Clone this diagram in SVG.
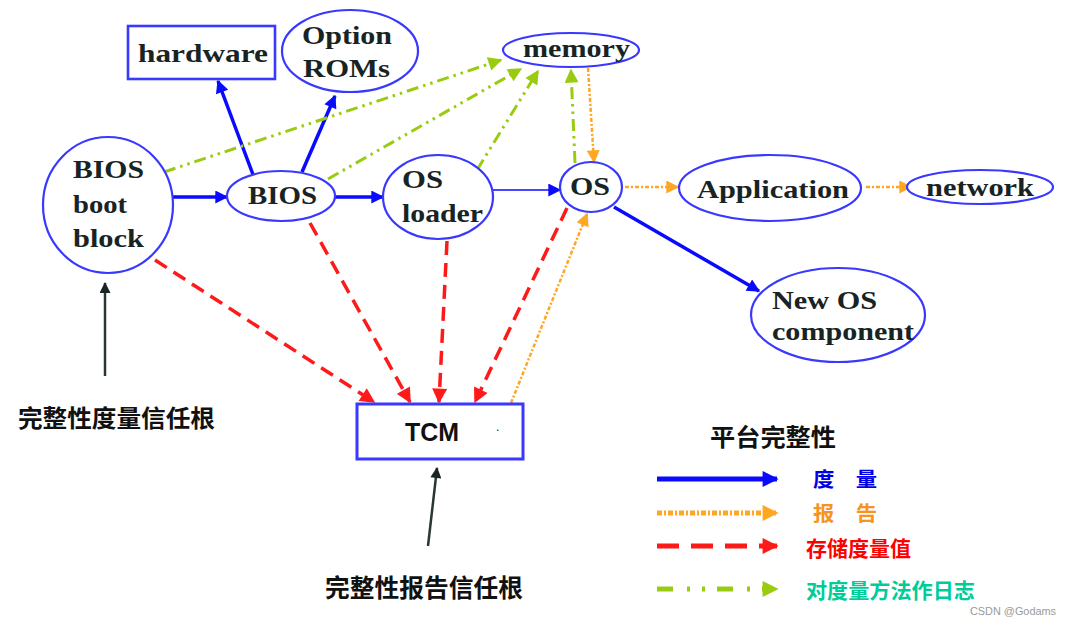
<svg xmlns="http://www.w3.org/2000/svg" width="1071" height="625" viewBox="0 0 1071 625">
<style>
.node{fill:#ffffff;stroke:#3838ff;stroke-width:2.2}
.nt{font-family:"Liberation Serif",serif;font-weight:bold;font-size:26px;fill:#182424}
.cn{font-family:"Noto Sans CJK SC",sans-serif;font-weight:bold}
.blue{stroke:#0a0aff;stroke-width:3.5;fill:none}
.red{stroke:#ff1a1a;stroke-width:3.5;fill:none;stroke-dasharray:14 8}
.green{stroke:#99cc11;stroke-width:3;fill:none;stroke-dasharray:12 5 2.5 5 2.5 5}
.orange{stroke:#ffa622;stroke-width:2.5;fill:none;stroke-dasharray:4 2 2 2}
.black{stroke:#2a3636;stroke-width:2.5;fill:none}
.lg{stroke-width:5}
</style>
<defs>
<marker id="mb" viewBox="0 0 10 10" refX="9" refY="5" markerUnits="userSpaceOnUse" markerWidth="16" markerHeight="13" orient="auto"><path d="M0,0 L10,5 L0,10 z" fill="#0a0aff"/></marker>
<marker id="mr" viewBox="0 0 10 10" refX="9" refY="5" markerUnits="userSpaceOnUse" markerWidth="17" markerHeight="15" orient="auto"><path d="M0,0 L10,5 L0,10 z" fill="#ff1a1a"/></marker>
<marker id="mg" viewBox="0 0 10 10" refX="9" refY="5" markerUnits="userSpaceOnUse" markerWidth="16" markerHeight="14" orient="auto"><path d="M0,0 L10,5 L0,10 z" fill="#99cc11"/></marker>
<marker id="mo" viewBox="0 0 10 10" refX="9" refY="5" markerUnits="userSpaceOnUse" markerWidth="15" markerHeight="13" orient="auto"><path d="M0,0 L10,5 L0,10 z" fill="#ffa622"/></marker>
<marker id="mk" viewBox="0 0 10 10" refX="9" refY="5" markerUnits="userSpaceOnUse" markerWidth="13" markerHeight="11" orient="auto"><path d="M0,0 L10,5 L0,10 z" fill="#1a2424"/></marker>
<marker id="lb" viewBox="0 0 10 10" refX="9" refY="5" markerUnits="userSpaceOnUse" markerWidth="17" markerHeight="16" orient="auto"><path d="M0,0 L10,5 L0,10 z" fill="#0a0aff"/></marker>
<marker id="lo" viewBox="0 0 10 10" refX="9" refY="5" markerUnits="userSpaceOnUse" markerWidth="17" markerHeight="16" orient="auto"><path d="M0,0 L10,5 L0,10 z" fill="#ffa622"/></marker>
<marker id="lr" viewBox="0 0 10 10" refX="9" refY="5" markerUnits="userSpaceOnUse" markerWidth="17" markerHeight="16" orient="auto"><path d="M0,0 L10,5 L0,10 z" fill="#ff1a1a"/></marker>
<marker id="lgm" viewBox="0 0 10 10" refX="9" refY="5" markerUnits="userSpaceOnUse" markerWidth="17" markerHeight="16" orient="auto"><path d="M0,0 L10,5 L0,10 z" fill="#99cc11"/></marker>
</defs>
<rect width="1071" height="625" fill="#ffffff"/>

<g id="connectors">
<line class="blue" x1="173" y1="197" x2="227" y2="197" marker-end="url(#mb)"/>
<line class="blue" x1="255" y1="180" x2="218" y2="81" marker-end="url(#mb)"/>
<line class="blue" x1="302" y1="172" x2="335" y2="96" marker-end="url(#mb)"/>
<line class="blue" x1="335" y1="197" x2="383" y2="197" marker-end="url(#mb)"/>
<line class="blue" style="stroke-width:1.6" x1="493" y1="190" x2="560" y2="190" marker-end="url(#mb)"/>
<line class="blue" x1="614" y1="207" x2="759" y2="291" marker-end="url(#mb)"/>
<line class="green" x1="164" y1="172" x2="501" y2="60" marker-end="url(#mg)"/>
<line class="green" x1="328" y1="179" x2="521" y2="69" marker-end="url(#mg)"/>
<line class="green" x1="477" y1="170" x2="538" y2="71" marker-end="url(#mg)"/>
<line class="green" x1="575" y1="163" x2="571" y2="70" marker-end="url(#mg)"/>
<line class="orange" x1="588" y1="68" x2="594" y2="162" marker-end="url(#mo)"/>
<line class="orange" x1="625" y1="187" x2="678" y2="187" marker-end="url(#mo)"/>
<line class="orange" x1="866" y1="187" x2="911" y2="187" marker-end="url(#mo)"/>
<line class="orange" x1="511" y1="403" x2="587" y2="214" marker-end="url(#mo)"/>
<line class="red" x1="155" y1="260" x2="374" y2="402" marker-end="url(#mr)"/>
<line class="red" x1="310" y1="223" x2="410" y2="402" marker-end="url(#mr)"/>
<line class="red" x1="447" y1="241" x2="439" y2="402" marker-end="url(#mr)"/>
<line class="red" x1="567" y1="208" x2="475" y2="402" marker-end="url(#mr)"/>
<line class="black" x1="105" y1="376" x2="105" y2="283" marker-end="url(#mk)"/>
<line class="black" x1="428" y1="546" x2="437" y2="468" marker-end="url(#mk)"/>
</g>

<g id="hardware">
<rect class="node" x="128" y="26" width="147" height="53" style="stroke-width:2.6"/>
<text class="nt" x="138" y="62" textLength="130" lengthAdjust="spacingAndGlyphs">hardware</text>
</g>
<g id="optionroms">
<ellipse class="node" cx="350" cy="51" rx="68" ry="41"/>
<text class="nt" x="302" y="44" textLength="90" lengthAdjust="spacingAndGlyphs">Option</text>
<text class="nt" x="303" y="77" textLength="87" lengthAdjust="spacingAndGlyphs">ROMs</text>
</g>
<g id="memory">
<ellipse class="node" cx="571" cy="50" rx="68" ry="17"/>
<text class="nt" x="523" y="57" textLength="107" lengthAdjust="spacingAndGlyphs">memory</text>
</g>
<g id="biosboot">
<ellipse class="node" cx="108" cy="205" rx="65" ry="68"/>
<text class="nt" x="73" y="178" textLength="71" lengthAdjust="spacingAndGlyphs">BIOS</text>
<text class="nt" x="73" y="213" textLength="54" lengthAdjust="spacingAndGlyphs">boot</text>
<text class="nt" x="73" y="247" textLength="71" lengthAdjust="spacingAndGlyphs">block</text>
</g>
<g id="bios">
<ellipse class="node" cx="281" cy="196" rx="54" ry="25"/>
<text class="nt" x="248" y="204" textLength="69" lengthAdjust="spacingAndGlyphs">BIOS</text>
</g>
<g id="osloader">
<ellipse class="node" cx="438" cy="197" rx="55" ry="42"/>
<text class="nt" x="402" y="188" textLength="41" lengthAdjust="spacingAndGlyphs">OS</text>
<text class="nt" x="402" y="222" textLength="81" lengthAdjust="spacingAndGlyphs">loader</text>
</g>
<g id="os">
<ellipse class="node" cx="591" cy="187" rx="31" ry="25"/>
<text class="nt" x="570" y="195" textLength="40" lengthAdjust="spacingAndGlyphs">OS</text>
</g>
<g id="application">
<ellipse class="node" cx="770" cy="188" rx="91" ry="33"/>
<text class="nt" x="697" y="198" textLength="152" lengthAdjust="spacingAndGlyphs">Application</text>
</g>
<g id="network">
<ellipse class="node" cx="980" cy="187" rx="73" ry="17"/>
<text class="nt" x="926" y="196" textLength="108" lengthAdjust="spacingAndGlyphs">network</text>
</g>
<g id="newos">
<ellipse class="node" cx="838" cy="315" rx="87" ry="47"/>
<text class="nt" x="772" y="309" textLength="105" lengthAdjust="spacingAndGlyphs">New OS</text>
<text class="nt" x="772" y="340" textLength="142" lengthAdjust="spacingAndGlyphs">component</text>
</g>
<g id="tcm">
<rect class="node" x="357" y="404" width="166" height="55" style="stroke-width:3"/>
<text x="405" y="441" font-family="Liberation Sans, Arial, sans-serif" font-weight="bold" font-size="25" fill="#111" textLength="54" lengthAdjust="spacingAndGlyphs">TCM</text>
<text x="496" y="431" font-family="Liberation Sans, Arial, sans-serif" font-size="12" fill="#111">.</text>
</g>

<g id="labels">
<text class="cn" x="18" y="427" font-size="24" fill="#111" textLength="197" lengthAdjust="spacingAndGlyphs">完整性度量信任根</text>
<text class="cn" x="325" y="597" font-size="25" fill="#111" textLength="198" lengthAdjust="spacingAndGlyphs">完整性报告信任根</text>
</g>

<g id="legend">
<text class="cn" x="710" y="446" font-size="24" fill="#111" textLength="126" lengthAdjust="spacingAndGlyphs">平台完整性</text>
<line class="blue lg" x1="657" y1="479" x2="777" y2="479" marker-end="url(#lb)"/>
<line class="orange lg" style="stroke-dasharray:5 2 2 2" x1="657" y1="513" x2="777" y2="513" marker-end="url(#lo)"/>
<line class="red lg" style="stroke-dasharray:22 12" x1="657" y1="546" x2="777" y2="546" marker-end="url(#lr)"/>
<line class="green lg" style="stroke-dasharray:16 14 3 12 3 12" x1="657" y1="589" x2="777" y2="589" marker-end="url(#lgm)"/>
<text class="cn" x="813" y="487" font-size="20" fill="#0000e6" textLength="64" lengthAdjust="spacingAndGlyphs">度　量</text>
<text class="cn" x="813" y="521" font-size="20" fill="#f7941d" textLength="64" lengthAdjust="spacingAndGlyphs">报　告</text>
<text class="cn" x="806" y="556" font-size="21" fill="#ff0000" textLength="105" lengthAdjust="spacingAndGlyphs">存储度量值</text>
<text class="cn" x="806" y="598" font-size="21" fill="#00cc99" textLength="169" lengthAdjust="spacingAndGlyphs">对度量方法作日志</text>
</g>
<text x="970" y="615" font-family="Liberation Sans, Arial, sans-serif" font-size="11" fill="#9a9a9a" textLength="86" lengthAdjust="spacingAndGlyphs">CSDN @Godams</text>
</svg>
